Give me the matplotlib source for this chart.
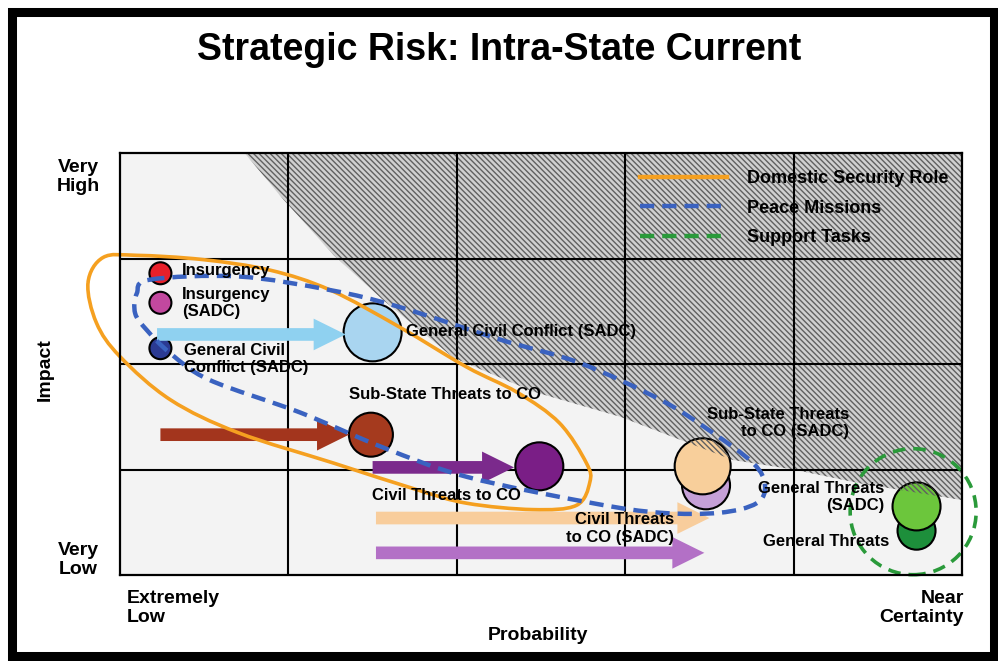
import numpy as np
import matplotlib
matplotlib.use('Agg')
from matplotlib import pyplot
from matplotlib.patches import Polygon, Ellipse, Rectangle, PathPatch
from matplotlib.path import Path
from matplotlib.lines import Line2D

# x = probability (0 extremely low .. 5 near certainty), y = impact (0 very low .. 4 very high)
bubble_names = ['Insurgency', 'Insurgency (SADC)', 'General Civil Conflict (SADC) start',
                'General Civil Conflict (SADC)', 'Sub-State Threats to CO', 'Civil Threats to CO',
                'Civil Threats to CO (SADC)', 'Sub-State Threats to CO (SADC)',
                'General Threats', 'General Threats (SADC)']
bubble_x = [0.24, 0.24, 0.24, 1.50, 1.49, 2.49, 3.48, 3.46, 4.73, 4.73]
bubble_y = [2.86, 2.58, 2.15, 2.30, 1.33, 1.03, 0.85, 1.03, 0.42, 0.65]
bubble_r = [11, 11, 11, 29, 22, 24, 24, 28, 19, 24]
bubble_colors = ['#e8202a', '#c2489f', '#2b3a93', '#a9d5f0', '#a53a1e', '#7a1e86',
                 '#c5a0d7', '#f8cf9b', '#1d8f3b', '#6cc63c']

# movement arrows: from, to (probability), at impact level
arrow_x0 = [0.22, 0.24, 1.50, 1.52, 1.52]
arrow_x1 = [1.34, 1.36, 2.34, 3.50, 3.47]
arrow_y = [2.28, 1.33, 1.02, 0.54, 0.21]
arrow_colors = ['#8fd1f0', '#a3351d', '#7b2a8c', '#f8cd9c', '#b370c6']

# edge of the hatched zone
hatch_x = [0.74, 0.97, 1.27, 1.56, 1.98, 2.45, 2.97, 3.28, 3.64, 4.00, 4.39, 5.0]
hatch_y = [4.0, 3.56, 3.03, 2.61, 2.06, 1.74, 1.50, 1.31, 1.09, 1.00, 0.87, 0.71]

# grouping loops
domestic_x = [-0.19, -0.10, 0.10, 0.49, 0.89, 1.25, 1.66, 2.06, 2.36, 2.61, 2.77, 2.79,
              2.71, 2.45, 2.06, 1.76, 1.27, 0.70, 0.30, 0.0, -0.14]
domestic_y = [2.77, 3.01, 3.03, 2.99, 2.89, 2.70, 2.35, 1.97, 1.73, 1.44, 1.06, 0.88,
              0.66, 0.62, 0.68, 0.81, 1.06, 1.35, 1.66, 2.07, 2.39]
peace_x = [0.18, 0.70, 1.25, 1.66, 2.26, 2.73, 3.21, 3.50, 3.76, 3.83, 3.78, 3.56,
           3.21, 2.81, 2.06, 1.56, 1.07, 0.53, 0.30, 0.16, 0.09, 0.10]
peace_y = [2.80, 2.83, 2.70, 2.54, 2.23, 2.01, 1.66, 1.37, 1.06, 0.85, 0.68, 0.59,
           0.59, 0.68, 0.93, 1.21, 1.54, 1.85, 2.10, 2.32, 2.48, 2.67]
support_center = (4.71, 0.60)

legend_labels = ['Domestic Security Role', 'Peace Missions', 'Support Tasks']

ORANGE = '#f5a020'
BLUE = '#3a62c0'
GREEN = '#2a9a3a'
NARROW = ['Liberation Sans Narrow', 'Liberation Sans', 'DejaVu Sans']
BOLD = ['Liberation Sans', 'DejaVu Sans']
HATCH = '\\' * 6
HATCH_COLOR = '#606060'


def closed_smooth_path(xs, ys):
    pts = np.column_stack([xs, ys])
    n = len(pts)
    verts = [pts[0]]
    codes = [Path.MOVETO]
    for i in range(n):
        p0, p1, p2, p3 = pts[i - 1], pts[i], pts[(i + 1) % n], pts[(i + 2) % n]
        verts += [p1 + (p2 - p0) / 6, p2 - (p3 - p1) / 6, p2]
        codes += [Path.CURVE4] * 3
    return Path(verts, codes)


pyplot.rcParams['hatch.linewidth'] = 1.0

fig = pyplot.figure(figsize=(9.98, 6.61), dpi=100)
fig.patch.set_facecolor('white')
ax = fig.add_axes([120 / 998, 86 / 661, 842 / 998, 422 / 661])
ax.set_xlim(0, 5)
ax.set_ylim(0, 4)
ax.set_facecolor('#f3f3f3')
ax.set_xticks([])
ax.set_yticks([])
for s in ax.spines.values():
    s.set_linewidth(1.6)
    s.set_zorder(6)

# px per data unit, for round bubbles in data space
px_x = 842 / 5
px_y = 422 / 4

# hatched zone
zone = list(zip(hatch_x, hatch_y)) + [(5, 4)]
ax.add_patch(Polygon(zone, closed=True, facecolor='#d0d0d0', edgecolor=HATCH_COLOR,
                     linewidth=0, hatch=HATCH, zorder=1))

# grid
ax.vlines([1, 2, 3, 4], 0, 4, colors='black', linewidth=1.5, zorder=1.5)
ax.hlines([1, 2, 3], 0, 5, colors='black', linewidth=1.5, zorder=1.5)

# bubbles
sizes = [(1.44 * r) ** 2 for r in bubble_r]
ax.scatter(bubble_x, bubble_y, s=sizes, c=bubble_colors, edgecolors='black',
           linewidths=1.5, zorder=2, clip_on=False)

# hatching shows through on bubbles lying in the zone
for x, y, r in zip(bubble_x, bubble_y, bubble_r):
    clip = Ellipse((x, y), 2 * r / px_x, 2 * r / px_y, transform=ax.transData)
    over = Polygon(zone, closed=True, facecolor='none', edgecolor=HATCH_COLOR, linewidth=0,
                   hatch=HATCH, zorder=2.2)
    ax.add_patch(over)
    over.set_clip_path(clip)

# arrows
for x0, x1, y, col in zip(arrow_x0, arrow_x1, arrow_y, arrow_colors):
    ax.arrow(x0, y, x1 - x0, 0, width=0.12, head_width=0.30, head_length=0.19,
             length_includes_head=True, color=col, linewidth=0, zorder=3)

# loops
ax.add_patch(PathPatch(closed_smooth_path(domestic_x, domestic_y), facecolor='none',
                       edgecolor=ORANGE, linewidth=2.6, zorder=3.5, clip_on=False))
ax.add_patch(PathPatch(closed_smooth_path(peace_x, peace_y), facecolor='none',
                       edgecolor=BLUE, linewidth=3.2, linestyle=(0, (3.2, 1.8)),
                       zorder=3.6, clip_on=False))
ax.add_patch(Ellipse(support_center, 126 / px_x, 126 / px_y, facecolor='none',
                     edgecolor=GREEN, linewidth=2.6, linestyle=(0, (3.5, 2.2)),
                     zorder=3.6, clip_on=False))

# labels
lab = dict(fontsize=12, fontweight='bold', family=BOLD, zorder=5, va='center')
ax.text(0.37, 2.89, 'Insurgency', ha='left', **lab)
ax.text(0.37, 2.58, 'Insurgency\n(SADC)', ha='left', linespacing=1.2, **lab)
ax.text(0.38, 2.05, 'General Civil\nConflict (SADC)', ha='left', linespacing=1.2, **lab)
ax.text(1.70, 2.31, 'General Civil Conflict (SADC)', ha='left', **lab)
ax.text(1.93, 1.71, 'Sub-State Threats to CO', ha='center', **lab)
ax.text(1.94, 0.75, 'Civil Threats to CO', ha='center', **lab)
ax.text(4.33, 1.44, 'Sub-State Threats\nto CO (SADC)', ha='right', linespacing=1.2, **lab)
ax.text(3.29, 0.44, 'Civil Threats\nto CO (SADC)', ha='right', linespacing=1.2, **lab)
ax.text(4.54, 0.74, 'General Threats\n(SADC)', ha='right', linespacing=1.2, **lab)
ax.text(4.57, 0.32, 'General Threats', ha='right', **lab)

# legend
handles = [Line2D([], [], color=ORANGE, linewidth=3.2),
           Line2D([], [], color=BLUE, linewidth=3.2, linestyle=(0, (3.2, 1.8))),
           Line2D([], [], color=GREEN, linewidth=3.2, linestyle=(0, (3.2, 1.8)))]
leg = ax.legend(handles, legend_labels, loc='upper left', bbox_to_anchor=(640 / 998, 1 - 170 / 661),
                bbox_transform=fig.transFigure, frameon=False, handlelength=4.8,
                handletextpad=1.15, labelspacing=0.7, borderpad=0, borderaxespad=0,
                prop={'family': BOLD, 'weight': 'bold', 'size': 13})
leg.set_zorder(5)

# axis captions
cap = dict(fontsize=14, fontweight='bold', family=NARROW, linespacing=1.15)
fig.text(78 / 998, 1 - 177 / 661, 'Very\nHigh', ha='center', va='center', **cap)
fig.text(78 / 998, 1 - 560 / 661, 'Very\nLow', ha='center', va='center', **cap)
fig.text(45 / 998, 1 - 370 / 661, 'Impact', ha='center', va='center', rotation=90, **cap)
fig.text(127 / 998, 1 - 608 / 661, 'Extremely\nLow', ha='left', va='center', **cap)
fig.text(964 / 998, 1 - 608 / 661, 'Near\nCertainty', ha='right', va='center', **cap)
fig.text(538 / 998, 1 - 636 / 661, 'Probability', ha='center', va='center', **cap)

fig.text(499 / 998, 1 - 50 / 661, 'Strategic Risk: Intra-State Current', ha='center',
         va='center', fontsize=27, fontweight='bold', family=NARROW)

# outer frame
fig.add_artist(Rectangle((12 / 998, 5 / 661), 982 / 998, 644 / 661, transform=fig.transFigure,
                         facecolor='none', edgecolor='black', linewidth=6.5))

fig.savefig('out.png', dpi=100)
